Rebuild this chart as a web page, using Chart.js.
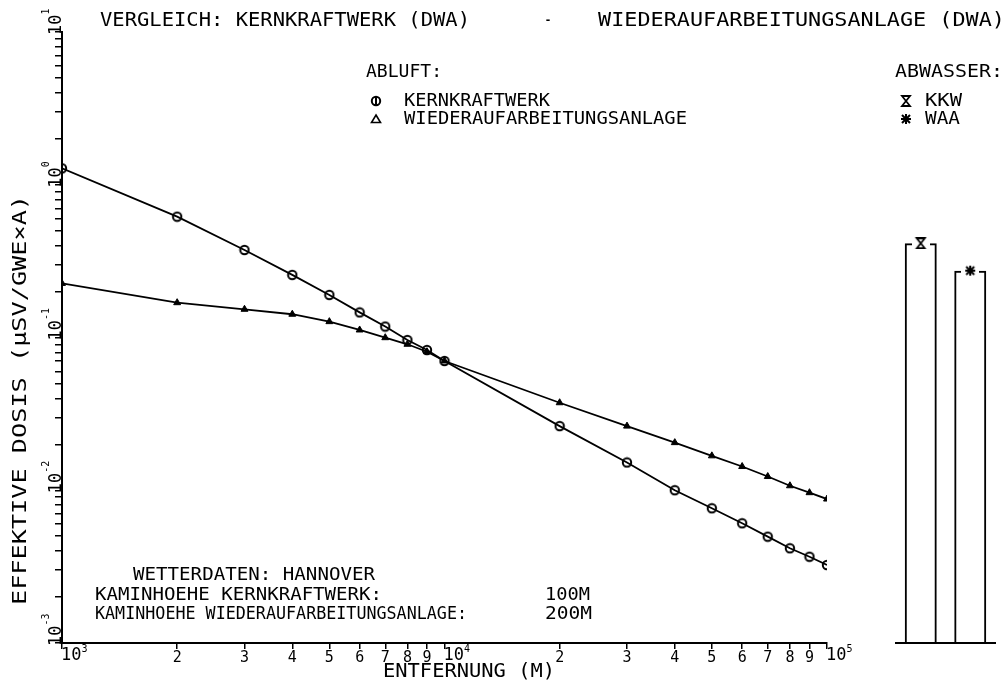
<!DOCTYPE html>
<html>
<head>
<meta charset="utf-8">
<script src="https://cdn.jsdelivr.net/npm/chart.js@4.4.0/dist/chart.umd.min.js"></script>
<style>
  html, body { margin: 0; padding: 0; background: #fff; }
  #wrap { position: relative; width: 1008px; height: 699px; }
  #wrap canvas { position: absolute; left: 0; top: 0; }
</style>
</head>
<body>
<div id="wrap">
  <canvas id="doseChart" width="1008" height="699"></canvas>
  <canvas id="waterChart" width="1008" height="699"></canvas>
</div>
<script>
// distances (m) and effective dose (µSv per GWe·a)
const distances = [1000, 2000, 3000, 4000, 5000, 6000, 7000, 8000, 9000,
  10000, 20000, 30000, 40000, 50000, 60000, 70000, 80000, 90000, 100000];
const kkwAir = [1.28, 0.618, 0.374, 0.257, 0.190, 0.146, 0.118, 0.0963, 0.0828,
  0.0702, 0.0263, 0.0152, 0.0100, 0.00762, 0.00608, 0.00497, 0.00417, 0.00367, 0.00324];
const waaAir = [0.226, 0.169, 0.153, 0.142, 0.127, 0.112, 0.0997, 0.0903, 0.0807,
  0.0702, 0.0374, 0.0263, 0.0205, 0.0168, 0.0143, 0.0123, 0.0107, 0.00964, 0.00876];

// waste water doses (bars on the right)
const waterLabels = ['KKW', 'WAA'];
const waterDose = [0.414, 0.274];

// axis ticks
const xTickValues = [1000, 2000, 3000, 4000, 5000, 6000, 7000, 8000, 9000,
  10000, 20000, 30000, 40000, 50000, 60000, 70000, 80000, 90000, 100000];
const xPowers = [1000, 10000, 100000];
const yTickValues = [0.001, 0.002, 0.003, 0.004, 0.005, 0.006, 0.007, 0.008, 0.009,
  0.01, 0.02, 0.03, 0.04, 0.05, 0.06, 0.07, 0.08, 0.09,
  0.1, 0.2, 0.3, 0.4, 0.5, 0.6, 0.7, 0.8, 0.9,
  1, 2, 3, 4, 5, 6, 7, 8, 9, 10];
const yPowers = [0.001, 0.01, 0.1, 1, 10];

const FONT = '"DejaVu Sans Mono", monospace';

// small canvases used as point symbols
function makeMarker(w, h, draw) {
  const c = document.createElement('canvas');
  c.width = w;
  c.height = h;
  const g = c.getContext('2d');
  g.strokeStyle = '#000';
  g.fillStyle = '#000';
  g.lineWidth = 2;
  draw(g, w / 2, h / 2);
  return c;
}

const circleMark = makeMarker(12, 12, (g, cx, cy) => {
  g.beginPath();
  g.arc(cx, cy, 4.2, 0, Math.PI * 2);
  g.stroke();
});

const circleLegend = makeMarker(12, 12, (g, cx, cy) => {
  g.beginPath();
  g.arc(cx, cy, 4.2, 0, Math.PI * 2);
  g.stroke();
  g.beginPath();
  g.moveTo(cx, cy - 4);
  g.lineTo(cx, cy + 4);
  g.stroke();
});

const triangleLegend = makeMarker(12, 12, (g, cx, cy) => {
  g.lineWidth = 1.6;
  g.beginPath();
  g.moveTo(cx, cy - 4);
  g.lineTo(cx + 4.5, cy + 3.5);
  g.lineTo(cx - 4.5, cy + 3.5);
  g.closePath();
  g.stroke();
});

function hourglass(g, cx, cy) {
  g.lineWidth = 1.8;
  g.beginPath();
  g.moveTo(cx - 4, cy - 5);
  g.lineTo(cx + 4, cy - 5);
  g.lineTo(cx - 4, cy + 5);
  g.lineTo(cx + 4, cy + 5);
  g.closePath();
  g.stroke();
}

function asterisk(g, cx, cy) {
  g.lineWidth = 2;
  g.beginPath();
  g.moveTo(cx, cy - 5); g.lineTo(cx, cy + 5);
  g.moveTo(cx - 5, cy); g.lineTo(cx + 5, cy);
  g.moveTo(cx - 4, cy - 4); g.lineTo(cx + 4, cy + 4);
  g.moveTo(cx + 4, cy - 4); g.lineTo(cx - 4, cy + 4);
  g.stroke();
}

const hourglassLegend = makeMarker(12, 12, hourglass);
const asteriskLegend = makeMarker(12, 12, asterisk);

// bar-top symbols with a white gap behind them
const hourglassTop = makeMarker(18, 12, (g, cx, cy) => {
  g.fillStyle = '#fff';
  g.fillRect(0, 0, 18, 12);
  hourglass(g, cx, cy);
});
const asteriskTop = makeMarker(18, 12, (g, cx, cy) => {
  g.fillStyle = '#fff';
  g.fillRect(0, 0, 18, 12);
  asterisk(g, cx, cy);
});

function fitText(ctx, str, x0, x1, y, size) {
  ctx.save();
  ctx.font = size + 'px ' + FONT;
  ctx.textBaseline = 'middle';
  ctx.textAlign = 'left';
  const w = ctx.measureText(str).width;
  ctx.translate(x0, y);
  ctx.scale((x1 - x0) / w, 1);
  ctx.fillText(str, 0, 0);
  ctx.restore();
}

function putMark(ctx, img, x, y) {
  ctx.drawImage(img, x - img.width / 2, y - img.height / 2);
}

const textPlugin = {
  id: 'plotterText',
  afterDraw(chart) {
    const ctx = chart.ctx;
    ctx.fillStyle = '#000';

    // power-of-ten labels on the x axis
    const xs = chart.scales.x;
    xPowers.forEach(v => {
      const px = xs.getPixelForValue(v);
      ctx.save();
      ctx.font = '17px ' + FONT;
      ctx.textBaseline = 'top';
      ctx.fillText('10', px - 1, 647);
      const w = ctx.measureText('10').width;
      ctx.font = '10px ' + FONT;
      ctx.fillText(String(Math.round(Math.log10(v))), px + w - 1, 644);
      ctx.restore();
    });

    // power-of-ten labels on the y axis, turned upwards
    const ys = chart.scales.y;
    yPowers.forEach(v => {
      const py = ys.getPixelForValue(v);
      ctx.save();
      ctx.translate(61, py + 3);
      ctx.rotate(-Math.PI / 2);
      ctx.font = '17px ' + FONT;
      ctx.textBaseline = 'alphabetic';
      ctx.fillText('10', 0, 0);
      const w = ctx.measureText('10').width;
      ctx.font = '10px ' + FONT;
      ctx.fillText(String(Math.round(Math.log10(v))), w, -12);
      ctx.restore();
    });

    // title and notes
    fitText(ctx, 'VERGLEICH: KERNKRAFTWERK (DWA)', 100, 470, 21, 19);
    fitText(ctx, '-', 544, 552, 21, 19);
    fitText(ctx, 'WIEDERAUFARBEITUNGSANLAGE (DWA)', 598, 1005, 21, 19);

    fitText(ctx, 'ABLUFT:', 366, 442, 72, 18);
    putMark(ctx, circleLegend, 376, 101);
    fitText(ctx, 'KERNKRAFTWERK', 404, 550, 101, 18);
    putMark(ctx, triangleLegend, 376, 119);
    fitText(ctx, 'WIEDERAUFARBEITUNGSANLAGE', 404, 687, 119, 18);

    fitText(ctx, 'ABWASSER:', 895, 1003, 72, 18);
    putMark(ctx, hourglassLegend, 906, 101);
    fitText(ctx, 'KKW', 925, 962, 101, 18);
    putMark(ctx, asteriskLegend, 906, 119);
    fitText(ctx, 'WAA', 925, 960, 119, 18);

    fitText(ctx, 'WETTERDATEN: HANNOVER', 133, 375, 575, 18);
    fitText(ctx, 'KAMINHOEHE KERNKRAFTWERK:', 95, 382, 595, 18);
    fitText(ctx, '100M', 545, 590, 595, 18);
    fitText(ctx, 'KAMINHOEHE WIEDERAUFARBEITUNGSANLAGE:', 95, 467, 614, 18);
    fitText(ctx, '200M', 545, 592, 614, 18);

    // axis titles
    fitText(ctx, 'ENTFERNUNG (M)', 383, 555, 672, 19);
    ctx.save();
    ctx.translate(21, 605);
    ctx.rotate(-Math.PI / 2);
    fitText(ctx, 'EFFEKTIVE DOSIS (µSV/GWE×A)', 0, 410, 0, 20);
    ctx.restore();
  }
};

const tickGrid = {
  drawOnChartArea: false,
  drawTicks: true,
  color: '#000',
  lineWidth: 1.5
};

new Chart(document.getElementById('doseChart'), {
  type: 'line',
  data: {
    datasets: [
      {
        label: 'KERNKRAFTWERK',
        data: distances.map((d, i) => ({ x: d, y: kkwAir[i] })),
        borderColor: '#000',
        borderWidth: 1.8,
        pointStyle: circleMark,
        pointRadius: 5,
        tension: 0,
        fill: false
      },
      {
        label: 'WIEDERAUFARBEITUNGSANLAGE',
        data: distances.map((d, i) => ({ x: d, y: waaAir[i] })),
        borderColor: '#000',
        borderWidth: 1.8,
        pointStyle: 'triangle',
        pointRadius: 4,
        pointBackgroundColor: '#000',
        pointBorderColor: '#000',
        pointBorderWidth: 1,
        tension: 0,
        fill: false
      }
    ]
  },
  options: {
    responsive: false,
    animation: false,
    layout: { padding: { top: 32, right: 181, bottom: 0, left: 0 } },
    plugins: {
      legend: { display: false },
      tooltip: { enabled: false }
    },
    scales: {
      x: {
        type: 'logarithmic',
        min: 1000,
        max: 100000,
        afterBuildTicks: s => { s.ticks = xTickValues.map(v => ({ value: v })); },
        afterFit: s => { s.height = 56; },
        grid: Object.assign({ tickLength: 6 }, tickGrid),
        border: { color: '#000', width: 2 },
        ticks: {
          autoSkip: false,
          maxRotation: 0,
          padding: 0,
          color: '#000',
          font: { family: FONT, size: 15 },
          callback: v => {
            const lead = v / Math.pow(10, Math.floor(Math.log10(v) + 1e-9));
            return Math.round(lead) === 1 ? '' : String(Math.round(lead));
          }
        }
      },
      y: {
        type: 'logarithmic',
        min: 0.001,
        max: 10,
        afterBuildTicks: s => { s.ticks = yTickValues.map(v => ({ value: v })); },
        afterFit: s => { s.width = 62; },
        grid: Object.assign({ tickLength: 7 }, tickGrid),
        border: { color: '#000', width: 2 },
        ticks: { display: false }
      }
    }
  },
  plugins: [textPlugin]
});

new Chart(document.getElementById('waterChart'), {
  data: {
    labels: waterLabels,
    datasets: [
      {
        type: 'line',
        data: waterDose,
        showLine: false,
        pointStyle: [hourglassTop, asteriskTop],
        pointRadius: 6,
        order: 0
      },
      {
        type: 'bar',
        data: waterDose,
        backgroundColor: 'rgba(0,0,0,0)',
        borderColor: '#000',
        borderWidth: 2,
        borderSkipped: 'bottom',
        barPercentage: 0.68,
        categoryPercentage: 0.95,
        order: 1
      }
    ]
  },
  options: {
    responsive: false,
    animation: false,
    layout: { padding: { top: 32, right: 13, bottom: 0, left: 896 } },
    plugins: {
      legend: { display: false },
      tooltip: { enabled: false }
    },
    scales: {
      x: {
        type: 'category',
        afterFit: s => { s.height = 56; },
        grid: { display: false },
        border: { color: '#000', width: 2 },
        ticks: { display: false }
      },
      y: {
        type: 'logarithmic',
        min: 0.001,
        max: 10,
        display: false
      }
    }
  }
});
</script>
</body>
</html>
